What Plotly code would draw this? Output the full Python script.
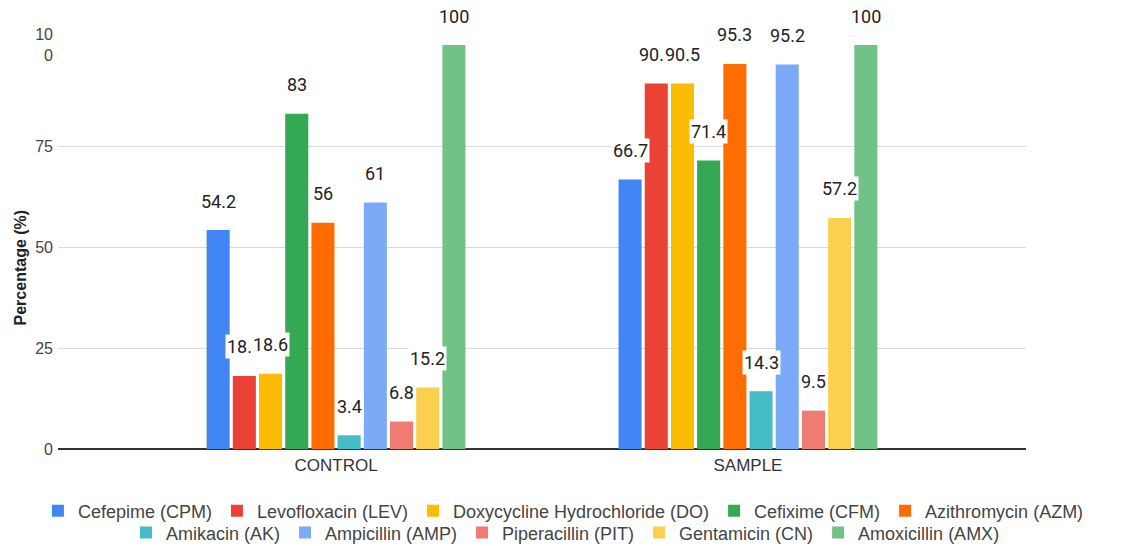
import plotly.graph_objects as go

categories = ["CONTROL", "SAMPLE"]
drugs = [
    "Cefepime (CPM)", "Levofloxacin (LEV)", "Doxycycline Hydrochloride (DO)",
    "Cefixime (CFM)", "Azithromycin (AZM)", "Amikacin (AK)", "Ampicillin (AMP)",
    "Piperacillin (PIT)", "Gentamicin (CN)", "Amoxicillin (AMX)",
]
control_values = [54.2, 18.1, 18.6, 83, 56, 3.4, 61, 6.8, 15.2, 100]
sample_values = [66.7, 90.5, 90.5, 71.4, 95.3, 14.3, 95.2, 9.5, 57.2, 100]
colors = ["#4285F4", "#EA4335", "#FBBC04", "#34A853", "#FF6D01",
          "#46BDC6", "#7BAAF7", "#F07B72", "#FCD04F", "#71C287"]
y_tickvals = [0, 25, 50, 75, 100]
y_ticktext = ["0", "25", "50", "75", "10<br>0"]

BARGAP = 0.364
n = len(drugs)
slot = (1 - BARGAP) / n

fig = go.Figure()
annotations = []
for i, name in enumerate(drugs):
    vals = [control_values[i], sample_values[i]]
    fig.add_trace(go.Bar(x=categories, y=vals, name=name,
                         legend="legend" if i < 5 else "legend2",
                         marker=dict(color=colors[i], line=dict(width=0))))
    for ci, v in enumerate(vals):
        annotations.append(dict(
            x=ci + (i - (n - 1) / 2) * slot, y=v, xref="x", yref="y",
            text=f"{v:g}", showarrow=False, yanchor="middle", yshift=29,
            bgcolor="white", borderpad=1,
            font=dict(size=18, color="#222222", family="Roboto, Arial, sans-serif"),
        ))

annotations.append(dict(
    text="<b>Percentage (%)</b>", textangle=-90, xref="paper", yref="paper",
    x=-0.039, y=0.45, showarrow=False, xanchor="center", yanchor="middle",
    font=dict(size=16, color="#222222", family="Arial, Liberation Sans, sans-serif"),
))

legend_font = dict(size=18, color="#444444", family="Arial, Liberation Sans, sans-serif")

fig.update_layout(
    width=1131, height=546,
    margin=dict(l=58, r=105, t=45, b=97),
    plot_bgcolor="white", paper_bgcolor="white",
    barmode="group", bargap=BARGAP, bargroupgap=0.12,
    font=dict(family="Arial, Liberation Sans, sans-serif", size=16, color="#444444"),
    xaxis=dict(type="category", range=[-0.675, 1.675], showgrid=False,
               automargin=False, ticks="", ticklabelstandoff=4,
               tickfont=dict(size=17, color="#333333")),
    yaxis=dict(range=[0, 100], tickvals=y_tickvals, ticktext=y_ticktext,
               automargin=False,
               showgrid=True, gridcolor="#d9d9d9", gridwidth=1,
               zeroline=True, zerolinecolor="#333333", zerolinewidth=1.5,
               tickfont=dict(size=16, color="#444444"), ticklabelstandoff=4),
    legend=dict(orientation="h", xref="paper", yref="paper",
                x=1.065, xanchor="right", y=-0.108, yanchor="top",
                bgcolor="rgba(0,0,0,0)",
                font=legend_font, itemwidth=30),
    legend2=dict(orientation="h", xref="container", yref="container",
                 x=0.5, xanchor="center", y=0.058, yanchor="top",
                 bgcolor="rgba(0,0,0,0)",
                 font=legend_font, itemwidth=30),
    annotations=annotations,
    showlegend=True,
)

fig.write_html("out.html", config={"displayModeBar": False},
               post_script="document.body.style.margin='0';")
